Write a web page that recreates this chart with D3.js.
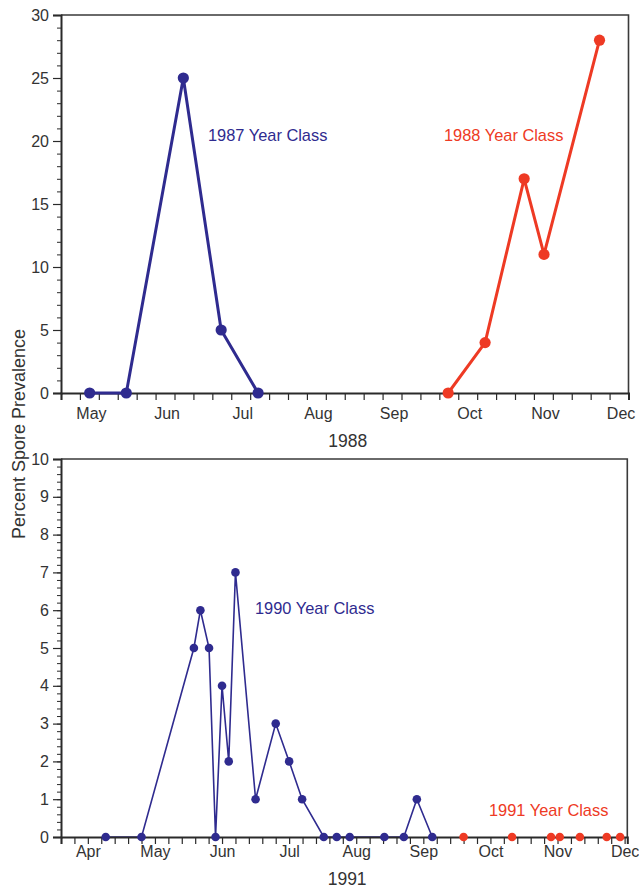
<!DOCTYPE html>
<html>
<head>
<meta charset="utf-8">
<script src="https://cdn.jsdelivr.net/npm/d3@7"></script>
<style>
  body { margin: 0; background: #fff; }
  svg { display: block; font-family: "Liberation Sans", Arial, Helvetica, sans-serif; }
  .axis path, .axis line { stroke: #2a2a2a; }
  .axis text { fill: #333; font-size: 16px; }
</style>
</head>
<body>
<div id="chart"></div>
<script>
// 1988 panel
const topBlueDates = ["1988-05-05", "1988-05-20", "1988-06-12", "1988-06-27", "1988-07-12"];
const topBlueValues = [0, 0, 25, 5, 0];
const topRedDates = ["1988-09-27", "1988-10-12", "1988-10-28", "1988-11-05", "1988-11-27"];
const topRedValues = [0, 4, 17, 11, 28];

// 1991 panel
const botBlueDates = ["1991-04-09", "1991-04-25", "1991-05-19", "1991-05-22", "1991-05-26",
  "1991-05-29", "1991-06-01", "1991-06-04", "1991-06-07", "1991-06-16", "1991-06-25",
  "1991-07-01", "1991-07-07", "1991-07-17", "1991-07-23", "1991-07-29", "1991-08-14",
  "1991-08-23", "1991-08-29", "1991-09-05"];
const botBlueValues = [0, 0, 5, 6, 5, 0, 4, 2, 7, 1, 3, 2, 1, 0, 0, 0, 0, 0, 1, 0];
const botRedDates = ["1991-09-19", "1991-10-11", "1991-10-29", "1991-11-02", "1991-11-11",
  "1991-11-23", "1991-11-29"];
const botRedValues = [0, 0, 0, 0, 0, 0, 0];

const monthNames = ["Jan", "Feb", "Mar", "Apr", "May", "Jun", "Jul", "Aug", "Sep", "Oct", "Nov", "Dec"];
const topMonths = [5, 6, 7, 8, 9, 10, 11, 12];
const botMonths = [4, 5, 6, 7, 8, 9, 10, 11, 12];

const blue = "#2f2b8f";
const red = "#ee3a24";

// fractional month so that every month gets the same width on the axis
function monthPos(s) {
  const d = new Date(s + "T00:00:00");
  const dim = new Date(d.getFullYear(), d.getMonth() + 1, 0).getDate();
  return d.getMonth() + 1 + (d.getDate() - 1) / dim;
}

const svg = d3.select("#chart").append("svg")
    .attr("width", 639)
    .attr("height", 888);

function panel(o) {
  const x = d3.scaleLinear().domain(o.xDomain).range([o.left, o.right]);
  const y = d3.scaleLinear().domain(o.yDomain).range([o.bottom, o.top]);
  const g = svg.append("g");
  const lines = g.append("g");
  const axes = g.append("g");
  const dots = g.append("g");
  if (o.linesOnTop) lines.raise(), dots.raise();

  // frame (top and right)
  axes.append("path")
      .attr("d", `M${o.left},${o.top}H${o.right}V${o.bottom}`)
      .attr("fill", "none")
      .attr("stroke", "#3a3a3a")
      .attr("stroke-width", 1.6);

  // x ticks
  axes.append("g")
      .attr("class", "axis")
      .attr("transform", `translate(0,${o.bottom})`)
      .call(d3.axisBottom(x).tickValues(o.xTicks).tickSize(7).tickFormat(""))
      .call(s => s.select(".domain").attr("stroke-width", 2))
      .call(s => s.selectAll(".tick line").attr("stroke-width", 1.2));

  // month labels
  axes.append("g")
      .attr("class", "axis")
      .attr("transform", `translate(${o.labelShift},${o.bottom})`)
      .call(d3.axisBottom(x).tickValues(o.months).tickSize(0).tickPadding(o.labelPad)
        .tickFormat(m => monthNames[m - 1]))
      .call(s => s.select(".domain").remove());

  // y minor ticks
  axes.append("g")
      .attr("class", "axis")
      .attr("transform", `translate(${o.left},0)`)
      .call(d3.axisLeft(y).tickValues(o.yMinor).tickSize(4).tickFormat(""))
      .call(s => s.select(".domain").remove())
      .call(s => s.selectAll(".tick line").attr("stroke-width", 1).attr("stroke", "#555"));

  // y major ticks
  axes.append("g")
      .attr("class", "axis")
      .attr("transform", `translate(${o.left},0)`)
      .call(d3.axisLeft(y).tickValues(o.yMajor).tickSize(8).tickPadding(4))
      .call(s => s.select(".domain").attr("stroke-width", 2))
      .call(s => s.selectAll(".tick line").attr("stroke-width", 1.2));

  o.series.forEach(sr => {
    const pts = sr.dates.map((d, i) => [monthPos(d), sr.values[i]]);
    if (sr.line) {
      lines.append("path")
          .datum(pts)
          .attr("fill", "none")
          .attr("stroke", sr.color)
          .attr("stroke-width", o.lineWidth)
          .attr("d", d3.line().x(d => x(d[0])).y(d => y(d[1])));
    }
    dots.selectAll(null)
        .data(pts)
        .join("circle")
        .attr("cx", d => x(d[0]))
        .attr("cy", d => y(d[1]))
        .attr("r", o.r)
        .attr("fill", sr.color);
  });

  o.labels.forEach(l => {
    g.append("text")
        .attr("x", l.x)
        .attr("y", l.y)
        .attr("fill", l.color)
        .attr("font-size", 16.4)
        .text(l.text);
  });

  g.append("text")
      .attr("x", (o.left + o.right) / 2 + 3)
      .attr("y", o.yearY)
      .attr("text-anchor", "middle")
      .attr("fill", "#333")
      .attr("font-size", 17.5)
      .text(o.year);
}

panel({
  left: 61, right: 628.5, top: 15, bottom: 393,
  xDomain: [4.75, 12.25], yDomain: [0, 30],
  xTicks: d3.range(4.75, 12.26, 0.25),
  months: topMonths, labelShift: 11, labelPad: 15,
  yMajor: d3.range(0, 31, 5), yMinor: d3.range(0, 31, 1),
  lineWidth: 3, r: 5.6, linesOnTop: true,
  series: [
    { dates: topBlueDates, values: topBlueValues, color: blue, line: true },
    { dates: topRedDates, values: topRedValues, color: red, line: true }
  ],
  labels: [
    { text: "1987 Year Class", x: 208, y: 141, color: blue },
    { text: "1988 Year Class", x: 444, y: 141, color: red }
  ],
  year: "1988", yearY: 447
});

panel({
  left: 61, right: 627.3, top: 459, bottom: 837,
  xDomain: [3.6, 12.04], yDomain: [0, 10],
  xTicks: d3.range(3.6, 12.01, 0.2),
  months: botMonths, labelShift: 0, labelPad: 9,
  yMajor: d3.range(0, 11, 1), yMinor: d3.range(0, 10.01, 0.2),
  lineWidth: 1.6, r: 4.3, linesOnTop: false,
  series: [
    { dates: botBlueDates, values: botBlueValues, color: blue, line: true },
    { dates: botRedDates, values: botRedValues, color: red, line: false }
  ],
  labels: [
    { text: "1990 Year Class", x: 255, y: 614, color: blue },
    { text: "1991 Year Class", x: 489, y: 816, color: red }
  ],
  year: "1991", yearY: 885
});

svg.append("text")
    .attr("transform", "translate(24.5,434) rotate(-90)")
    .attr("text-anchor", "middle")
    .attr("fill", "#333")
    .attr("font-size", 18)
    .text("Percent Spore Prevalence");
</script>
</body>
</html>
